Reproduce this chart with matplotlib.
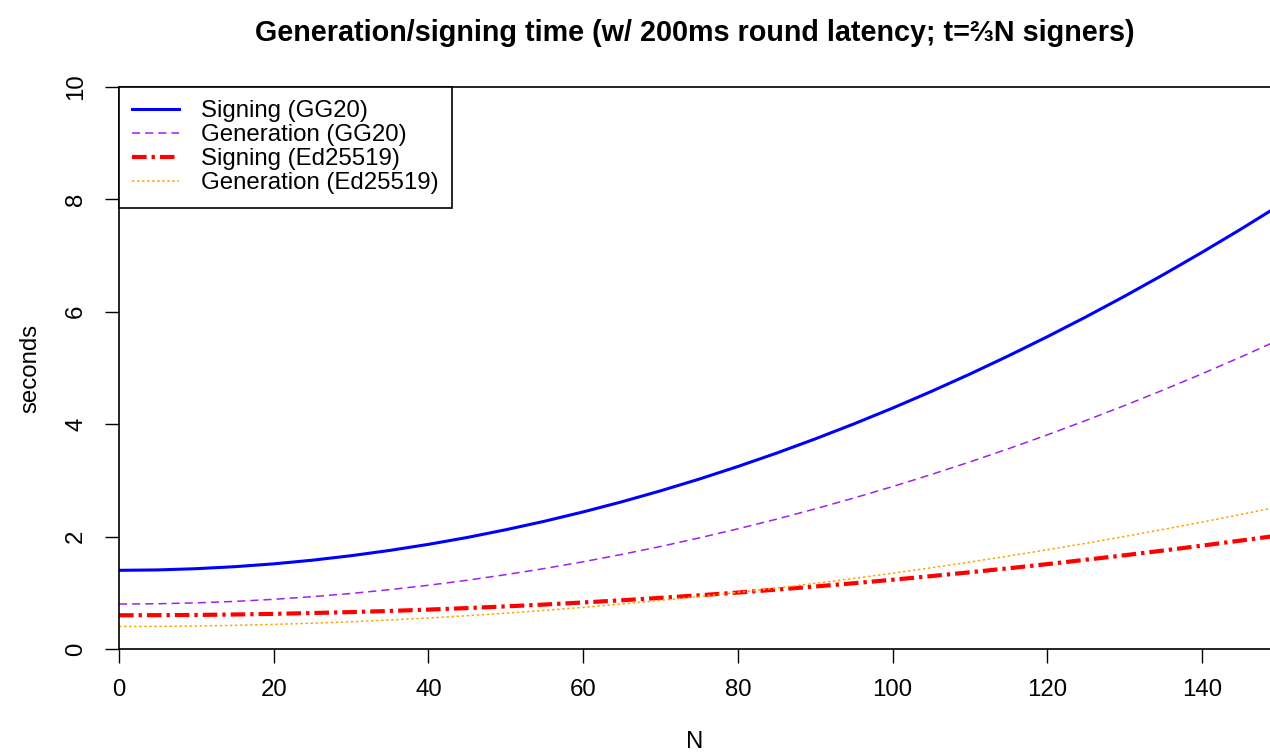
import numpy as np
import matplotlib.pyplot as plt

plt.rcParams['font.family'] = ['Liberation Sans', 'DejaVu Sans']

# N (number of parties) and times in seconds
n = [0, 5, 10, 15, 20, 25, 30, 35, 40, 45, 50, 55, 60, 65, 70, 75,
     80, 85, 90, 95, 100, 105, 110, 115, 120, 125, 130, 135, 140, 145, 150]
sign_gg20 = [1.400, 1.407, 1.429, 1.465, 1.515, 1.580, 1.660, 1.754, 1.862, 1.984,
             2.122, 2.273, 2.439, 2.619, 2.814, 3.023, 3.247, 3.485, 3.738, 4.005,
             4.286, 4.582, 4.892, 5.217, 5.556, 5.909, 6.277, 6.660, 7.057, 7.468, 7.894]
gen_gg20 = [0.800, 0.805, 0.821, 0.847, 0.884, 0.931, 0.988, 1.056, 1.134, 1.223,
            1.323, 1.432, 1.552, 1.683, 1.824, 1.976, 2.138, 2.310, 2.493, 2.686,
            2.890, 3.104, 3.329, 3.564, 3.810, 4.066, 4.332, 4.609, 4.896, 5.194, 5.503]
sign_ed = [0.600, 0.602, 0.606, 0.614, 0.625, 0.640, 0.657, 0.677, 0.701, 0.728,
           0.758, 0.791, 0.828, 0.867, 0.910, 0.956, 1.004, 1.057, 1.112, 1.170,
           1.232, 1.297, 1.365, 1.436, 1.510, 1.588, 1.668, 1.752, 1.839, 1.929, 2.022]
gen_ed = [0.400, 0.402, 0.409, 0.421, 0.438, 0.459, 0.485, 0.516, 0.552, 0.592,
          0.637, 0.687, 0.741, 0.801, 0.865, 0.933, 1.007, 1.085, 1.168, 1.256,
          1.348, 1.445, 1.547, 1.654, 1.765, 1.881, 2.002, 2.128, 2.258, 2.393, 2.533]

x_ticks = [0, 20, 40, 60, 80, 100, 120, 140]
y_ticks = [0, 2, 4, 6, 8, 10]

fs = 17.3

fig = plt.figure(figsize=(12.7, 7.56), dpi=100)
ax = fig.add_axes([119 / 1270, 1 - 649 / 756, 1 - 119 / 1270, (649 - 87) / 756])

ax.plot(n, sign_gg20, color='blue', lw=2.2, label='Signing (GG20)')
ax.plot(n, gen_gg20, color='#A020F0', lw=1.1, ls=(0, (5.3, 3.3)), label='Generation (GG20)')
ax.plot(n, sign_ed, color='red', lw=3.0, ls=(0, (3.5, 1.2, 0.8, 1.2)), label='Signing (Ed25519)')
ax.plot(n, gen_ed, color='orange', lw=1.1, ls=(0, (1.6, 1.7)), label='Generation (Ed25519)')

ax.set_xlim(0, 148.8)
ax.set_ylim(0, 10)
ax.set_xticks(x_ticks)
ax.set_yticks(y_ticks)
ax.tick_params(axis='both', direction='out', length=10, width=1, labelsize=fs, colors='black')
ax.tick_params(axis='x', pad=11.5)
ax.tick_params(axis='y', pad=13, labelrotation=90)
for lbl in ax.get_yticklabels():
    lbl.set_va('center')

for s in ['left', 'top', 'bottom']:
    ax.spines[s].set_linewidth(1.2)
    ax.spines[s].set_color('black')
ax.spines['right'].set_visible(False)

leg = ax.legend(loc='upper left', bbox_to_anchor=(0, 1), borderaxespad=0,
                fontsize=fs, fancybox=False, framealpha=1, edgecolor='black',
                borderpad=0.55, labelspacing=0.085, handlelength=1.95, handletextpad=0.9)
leg.get_frame().set_linewidth(1.2)

cx = (119 + 1270) / 2 / 1270
fig.text(cx, 1 - 33 / 756, 'Generation/signing time (w/ 200ms round latency; t=⅔N signers)',
         ha='center', va='center', fontsize=20.7, fontweight='bold')
fig.text(cx, 1 - 742 / 756, 'N', ha='center', va='center', fontsize=fs)
fig.text(30 / 1270, 1 - 368 / 756, 'seconds', ha='center', va='center', rotation=90, fontsize=fs)

fig.savefig('out.png', dpi=100, facecolor='white')
